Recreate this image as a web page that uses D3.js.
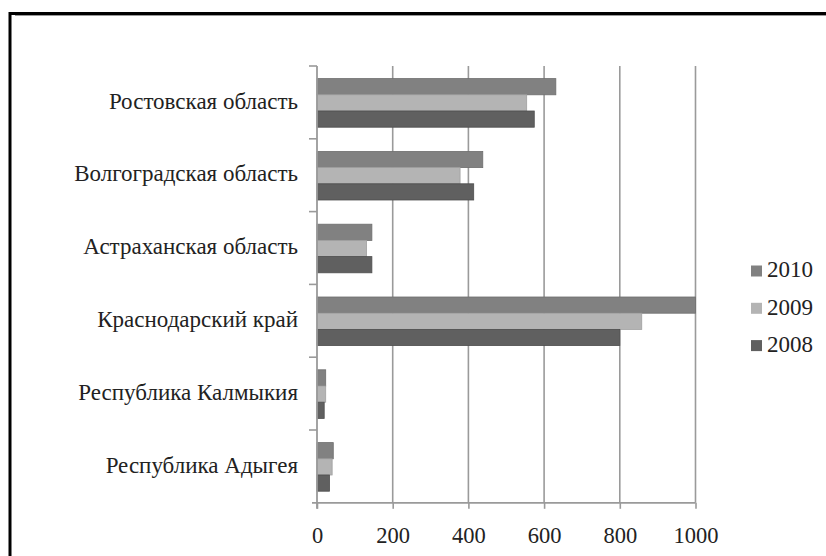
<!DOCTYPE html>
<html>
<head>
<meta charset="utf-8">
<script src="https://cdn.jsdelivr.net/npm/d3@7"></script>
<style>
  html, body { margin: 0; padding: 0; background: #fff; }
  svg { display: block; }
</style>
</head>
<body>
<svg id="chart" width="826" height="556"></svg>
<script>
// Regions, listed top to bottom
const categories = [
  "Ростовская область",
  "Волгоградская область",
  "Астраханская область",
  "Краснодарский край",
  "Республика Калмыкия",
  "Республика Адыгея"
];
// Series, in drawing order within each group (top to bottom)
const years = ["2010", "2009", "2008"];
const values2010 = [631, 438, 145, 1000, 23, 43];
const values2009 = [554, 378, 131, 858, 23, 40];
const values2008 = [574, 414, 145, 800, 19, 33];
const xTicks = [0, 200, 400, 600, 800, 1000];

const seriesValues = { "2010": values2010, "2009": values2009, "2008": values2008 };
const colors = { "2010": "#818181", "2009": "#b4b4b4", "2008": "#606060" };
const strokes = { "2010": "#6e6e6e", "2009": "#a0a0a0", "2008": "#4e4e4e" };
const FONT = "'Liberation Serif', 'Times New Roman', Times, serif";

const svg = d3.select("#chart");

// Outer frame
svg.append("rect").attr("width", 826).attr("height", 556).attr("fill", "#fff");
svg.append("line").attr("x1", 9).attr("x2", 826).attr("y1", 13.5).attr("y2", 13.5)
  .attr("stroke", "#000").attr("stroke-width", 3);
svg.append("line").attr("x1", 15).attr("x2", 826).attr("y1", 15.5).attr("y2", 15.5)
  .attr("stroke", "#999").attr("stroke-width", 1);
svg.append("line").attr("x1", 10).attr("x2", 10).attr("y1", 12).attr("y2", 556)
  .attr("stroke", "#000").attr("stroke-width", 3);

const plotTop = 66, plotBottom = 502.8;
const x = d3.scaleLinear().domain([0, 1000]).range([317, 695.5]);
const y = d3.scaleBand().domain(categories).range([plotTop, plotBottom]).paddingInner(0).paddingOuter(0);
const gap = y.bandwidth() - 48.6;
const ySeries = d3.scaleBand().domain(years).range([gap / 2 + 0.5, y.bandwidth() - gap / 2 + 0.5]);

// Vertical gridlines
svg.append("g").selectAll("line").data(xTicks.filter(d => d > 0)).join("line")
  .attr("x1", d => x(d)).attr("x2", d => x(d))
  .attr("y1", plotTop).attr("y2", plotBottom)
  .attr("stroke", "#9a9a9a").attr("stroke-width", 1.6);

// Bars
const groups = svg.append("g").selectAll("g").data(categories).join("g")
  .attr("transform", d => `translate(0,${y(d)})`);
groups.selectAll("rect").data((c, i) => years.map(yr => ({ yr, v: seriesValues[yr][i] }))).join("rect")
  .attr("x", x(0))
  .attr("y", d => ySeries(d.yr))
  .attr("width", d => x(d.v) - x(0))
  .attr("height", ySeries.bandwidth())
  .attr("fill", d => colors[d.yr])
  .attr("stroke", d => strokes[d.yr])
  .attr("stroke-width", 0.8);

// Bottom axis
const xAxis = svg.append("g").attr("transform", `translate(0,${plotBottom})`)
  .call(d3.axisBottom(x).tickValues(xTicks).tickFormat(d3.format("d"))
    .tickSize(6).tickPadding(18).tickSizeOuter(0));
xAxis.attr("font-family", null);
xAxis.select(".domain").attr("stroke", "#9a9a9a").attr("stroke-width", 1.8)
  .attr("d", `M${x(0) - 5},0H${x(1000)}`);
xAxis.selectAll(".tick line").attr("stroke", "#9a9a9a").attr("stroke-width", 1.6);
xAxis.selectAll(".tick text").attr("fill", "#222")
  .style("font-family", FONT).style("font-size", "22.5px");

// Left axis with ticks at category boundaries
const yAxisG = svg.append("g");
yAxisG.append("line").attr("x1", x(0)).attr("x2", x(0)).attr("y1", plotTop).attr("y2", plotBottom + 6)
  .attr("stroke", "#9a9a9a").attr("stroke-width", 1.8);
const boundaries = categories.map(c => y(c));
yAxisG.selectAll("line.b").data(boundaries).join("line").attr("class", "b")
  .attr("x1", x(0) - 8).attr("x2", x(0)).attr("y1", d => d).attr("y2", d => d)
  .attr("stroke", "#9a9a9a").attr("stroke-width", 1.6);
yAxisG.selectAll("text").data(categories).join("text")
  .attr("x", 298).attr("y", d => y(d) + y.bandwidth() / 2 + 1)
  .attr("text-anchor", "end").attr("dominant-baseline", "middle").attr("fill", "#222")
  .style("font-family", FONT).style("font-size", "23px").text(d => d);

// Legend
const legend = svg.append("g").selectAll("g").data(years).join("g")
  .attr("transform", (d, i) => `translate(751,${271 + i * 37.3})`);
legend.append("rect").attr("x", 0).attr("y", -5.5).attr("width", 11).attr("height", 11)
  .attr("fill", d => colors[d]);
legend.append("text").attr("x", 16).attr("y", 1).attr("dominant-baseline", "middle").attr("fill", "#222")
  .style("font-family", FONT).style("font-size", "23px").text(d => d);
</script>
</body>
</html>
